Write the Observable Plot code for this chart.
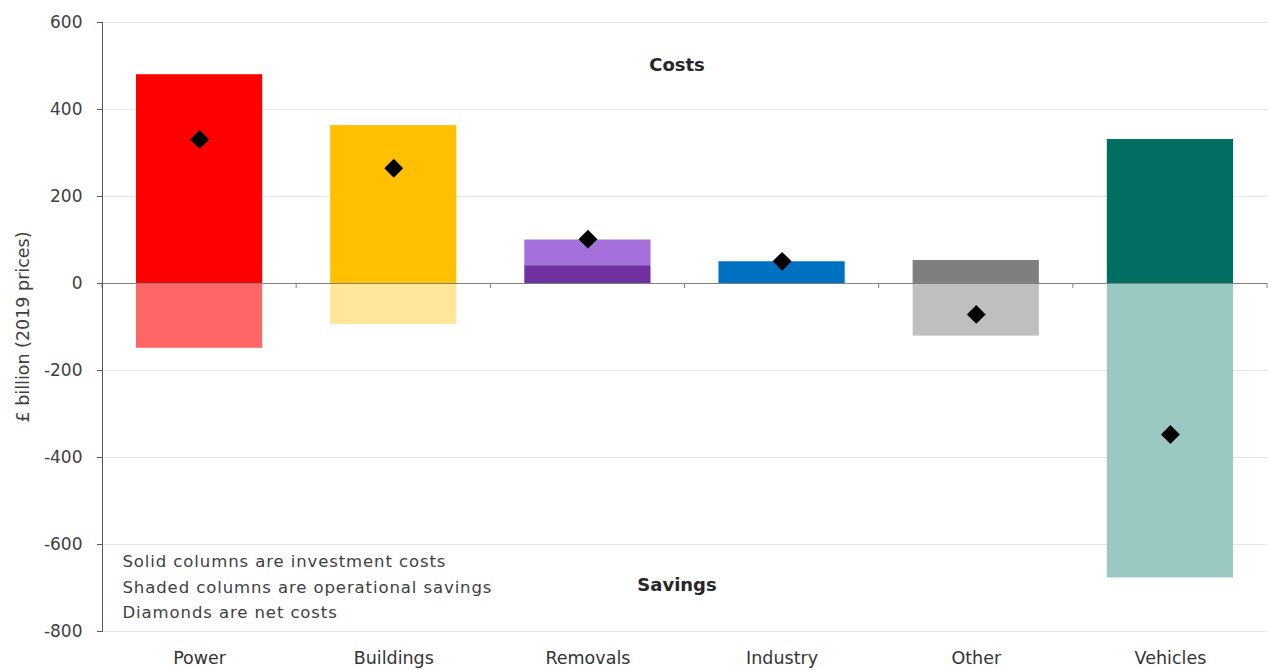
<!DOCTYPE html>
<html>
<head>
<meta charset="utf-8">
<script src="https://cdn.jsdelivr.net/npm/d3@7"></script>
<script src="https://cdn.jsdelivr.net/npm/@observablehq/plot@0.6"></script>
<style>
  html, body { margin: 0; padding: 0; background: #fff; }
  #chart { width: 1269px; height: 670px; }
</style>
</head>
<body>
<div id="chart"></div>
<script>
// ---- Data ----
const categories  = ["Power", "Buildings", "Removals", "Industry", "Other", "Vehicles"];
const investment  = [480, 363, 41, 50, 53, 331];       // solid columns
const operational = [-149, -94, 59, 0, -121, -677];    // shaded columns
const netCost     = [331, 265, 102, 51, -71, -347];    // diamonds
const solidColors  = ["#ff0000", "#ffc000", "#7030a0", "#0070c0", "#7f7f7f", "#006e61"];
const shadedColors = ["#ff6666", "#ffe699", "#a56fdc", "#66a9d9", "#bfbfbf", "#9ac8c3"];
const yTicks = [600, 400, 200, 0, -200, -400, -600, -800];
const notes = ["Solid columns are investment costs", "Shaded columns are operational savings", "Diamonds are net costs"];
const notesY = [-640, -700, -757];
const annotations = [{text: "Costs", y: 501}, {text: "Savings", y: -694}];

// ---- Build tables ----
const solid = categories.map((c, i) => ({cat: c, y1: 0, y2: investment[i], color: solidColors[i]}));
const shaded = categories.map((c, i) => {
  const op = operational[i];
  return op >= 0
    ? {cat: c, y1: investment[i], y2: investment[i] + op, color: shadedColors[i]}
    : {cat: c, y1: 0, y2: op, color: shadedColors[i]};
}).filter(d => d.y1 !== d.y2);
const net = categories.map((c, i) => ({cat: c, v: netCost[i]}));
const noteRows = notes.map((t, i) => ({t, y: notesY[i]}));

const FONT = "'DejaVu Sans', Verdana, sans-serif";

// boundary ticks on the zero line, drawn from the band scale
function boundaryTicks(index, scales, values, dimensions) {
  const x = scales.x, y = scales.y;
  const step = x(categories[1]) - x(categories[0]);
  const bw = x.bandwidth ? x.bandwidth() : step * 0.65;
  const gap = step - bw;
  const g = d3.create("svg:g");
  const xs = categories.map(c => x(c) - gap / 2);
  xs.push(x(categories[categories.length - 1]) + bw + gap / 2);
  const y0 = y(0);
  for (const xv of xs) {
    g.append("line")
      .attr("x1", xv).attr("x2", xv)
      .attr("y1", y0).attr("y2", y0 + 5)
      .attr("stroke", "#808080").attr("stroke-width", 1);
  }
  return g.node();
}

const chart = Plot.plot({
  width: 1269,
  height: 670,
  marginLeft: 102,
  marginRight: 2,
  marginTop: 22,
  marginBottom: 39,
  style: {fontFamily: FONT, background: "#fff"},
  x: {type: "band", domain: categories, paddingInner: 0.35, paddingOuter: 0.175, round: false, label: null},
  y: {domain: [-800, 600], label: null},
  marks: [
    Plot.gridY(yTicks, {stroke: "#e6e6e6", strokeOpacity: 1}),
    Plot.barY(solid, {x: "cat", y1: "y1", y2: "y2", fill: "color"}),
    Plot.barY(shaded, {x: "cat", y1: "y1", y2: "y2", fill: "color"}),
    Plot.ruleY([0], {stroke: "#808080", strokeWidth: 1.2}),
    boundaryTicks,
    Plot.frame({anchor: "left", stroke: "#595959", strokeWidth: 1}),
    Plot.axisY({ticks: yTicks, tickSize: 5, tickPadding: 15, fontSize: 17, stroke: "#595959",
      color: "#404040", tickFormat: d => String(d),
      label: "£ billion (2019 prices)", labelAnchor: "center", labelArrow: "none",
      labelOffset: 86}),
    Plot.axisX({tickSize: 0, tickPadding: 20, fontSize: 17.5, color: "#333", label: null}),
    Plot.dot(net, {x: "cat", y: "v", symbol: "diamond2", r: 8.5, fill: "#000", stroke: "none"}),
    Plot.text(annotations, {y: "y", text: "text", frameAnchor: "middle", dx: -8, fontSize: 18,
      fontWeight: "bold", fill: "#262626"}),
    Plot.text(noteRows, {y: "y", text: "t", frameAnchor: "left", textAnchor: "start", dx: 20, fontSize: 16.5,
      fill: "#404040", className: "notes"})
  ]
});
document.getElementById("chart").appendChild(chart);
// style the rotated y label and loosen note tracking
d3.select(chart).selectAll("[aria-label='y-axis label'] text").attr("font-size", 17.5).attr("fill", "#404040");
d3.select(chart).selectAll(".notes text").attr("letter-spacing", "0.9px");
</script>
</body>
</html>
